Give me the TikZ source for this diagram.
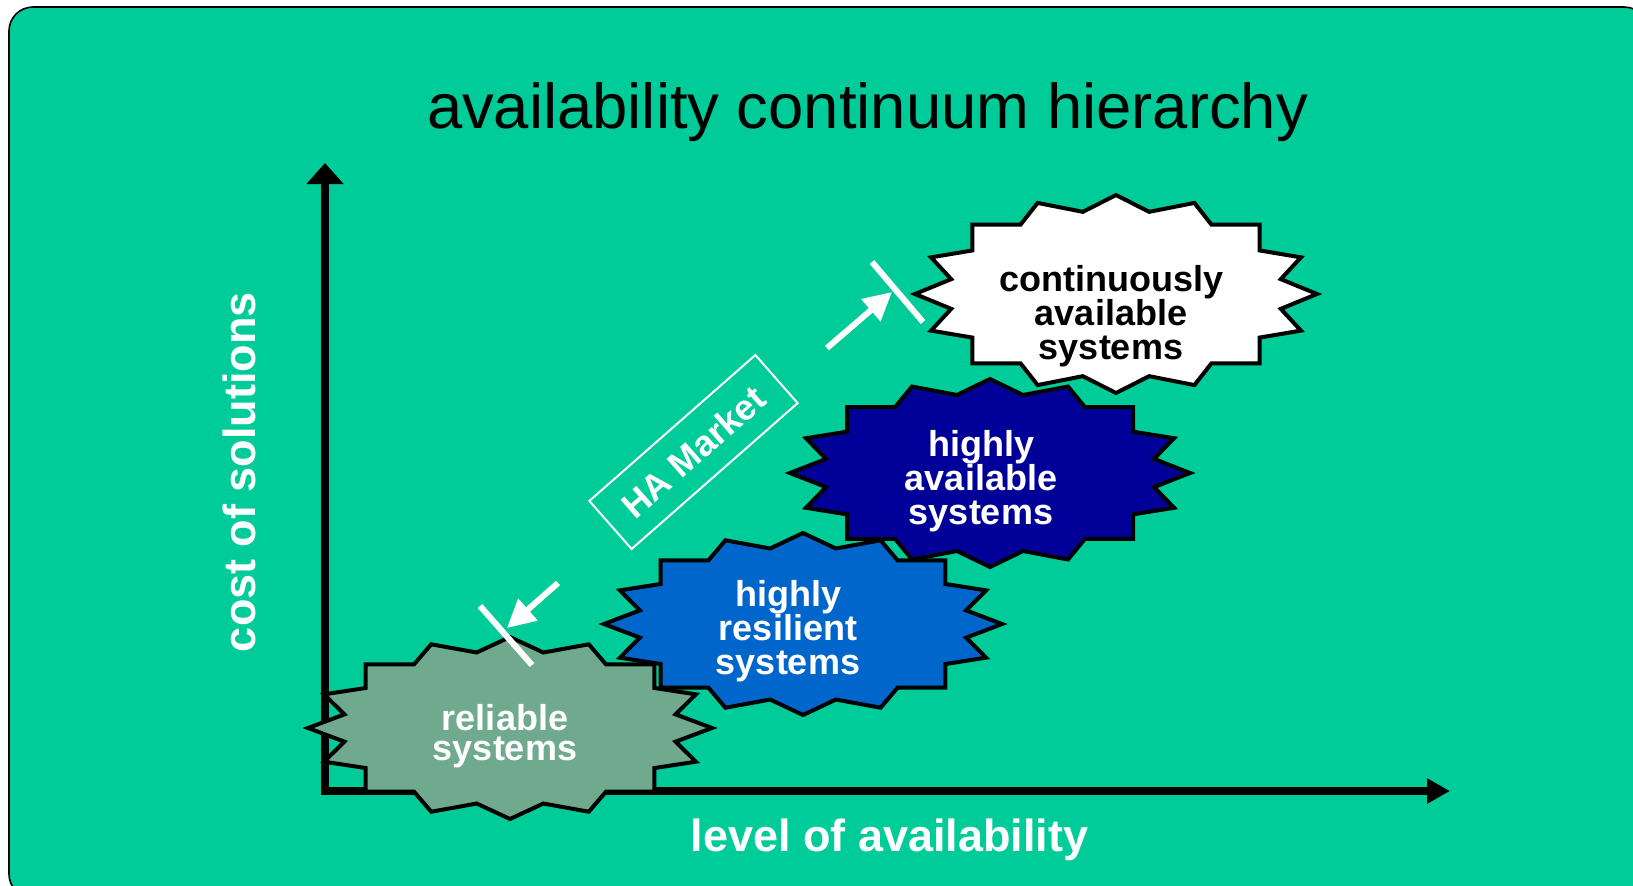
\documentclass[tikz,border=0pt]{standalone}
\usepackage{fontspec}
\setmainfont{Liberation Sans}
\usetikzlibrary{arrows.meta}

\definecolor{panelgreen}{HTML}{00CC99}
\definecolor{relgreen}{HTML}{6FAA8F}
\definecolor{resblue}{HTML}{0066CC}
\definecolor{avnavy}{HTML}{000099}

\tikzset{
	burstline/.style={draw=black, line width=2pt, line join=miter},
	bursttext/.style={align=center, inner sep=0pt, font=\bfseries\fontsize{18}{17}\selectfont},
	axislabel/.style={text=white, font=\bfseries\fontsize{22.5}{27}\selectfont},
	whitearrow/.style={white, line width=3pt, -{Triangle[length=14pt,width=14pt]}},
	limitbar/.style={white, line width=3pt},
}

% starburst: centre x, centre y, half width, half height, fill
\newcommand{\burst}[5]{%
	\draw[burstline, fill=#5, shift={(#1,#2)}, xscale=#3, yscale=#4]
		(0,-1) -- (0.165,-0.83) -- (0.39,-0.92) -- (0.475,-0.70) -- (0.715,-0.70)
		-- (0.715,-0.44) -- (0.92,-0.37) -- (0.82,-0.15) -- (1,0)
		-- (0.82,0.15) -- (0.92,0.37) -- (0.715,0.44) -- (0.715,0.70)
		-- (0.475,0.70) -- (0.39,0.92) -- (0.165,0.83) -- (0,1)
		-- (-0.165,0.83) -- (-0.39,0.92) -- (-0.475,0.70) -- (-0.715,0.70)
		-- (-0.715,0.44) -- (-0.92,0.37) -- (-0.82,0.15) -- (-1,0)
		-- (-0.82,-0.15) -- (-0.92,-0.37) -- (-0.715,-0.44) -- (-0.715,-0.70)
		-- (-0.475,-0.70) -- (-0.39,-0.92) -- (-0.165,-0.83) -- cycle;
}

\begin{document}
\begin{tikzpicture}[x=0.5pt, y=-0.5pt]

	\useasboundingbox (0,0) rectangle (1633,885);
	\fill[white] (0,0) rectangle (1633,885);
	\draw[fill=panelgreen, line width=0.8pt, rounded corners=12pt] (9,7) rectangle (1648,898);

	\node[anchor=base, font=\fontsize{31.7}{38}\selectfont] (title) at (867.5,128) {availability continuum hierarchy};

	% axes
	\coordinate (origin) at (325,791);
	\coordinate (ytip) at (325,163);
	\coordinate (xtip) at (1450,791);
	\draw[line width=4pt, {Triangle[length=10.5pt,width=18pt]}-{Triangle[length=11.5pt,width=12pt]}] (ytip) -- (origin) -- (xtip);

	\node[axislabel, anchor=base] (xlabel) at (889.5,851) {level of availability};
	\node[axislabel, anchor=base, rotate=90] (ylabel) at (255,472) {cost of solutions};

	% the four systems
	\burst{510}{728}{202}{91}{relgreen}
	\node[bursttext, text=white, font=\bfseries\fontsize{18}{15}\selectfont] (reliable) at (505,736) {reliable\\systems};

	\burst{803}{624}{199}{91}{resblue}
	\node[bursttext, text=white] (resilient) at (788,631) {highly\\resilient\\systems};

	\burst{990}{473}{200}{94}{avnavy}
	\node[bursttext, text=white] (available) at (981,481) {highly\\available\\systems};

	\burst{1116}{294}{201}{99}{white}
	\node[bursttext] (continuous) at (1111,316) {continuously\\available\\systems};

	% HA market band
	\node[draw=white, line width=1pt, text=white, rotate=41.3, minimum width=110.5pt, minimum height=32pt,
		inner sep=0pt, font=\bfseries\fontsize{18}{22}\selectfont] (market) at (693.5,452) {HA Market};

	\coordinate (lowtail) at (558,583);
	\coordinate (lowtip) at (507,628);
	\coordinate (lowbarA) at (480,606);
	\coordinate (lowbarB) at (532,665);
	\draw[limitbar] (lowbarA) -- (lowbarB);
	\draw[whitearrow] (lowtail) -- (lowtip);

	\coordinate (uptail) at (827,348);
	\coordinate (uptip) at (892,292);
	\coordinate (upbarA) at (872,262);
	\coordinate (upbarB) at (923,322);
	\draw[limitbar] (upbarA) -- (upbarB);
	\draw[whitearrow] (uptail) -- (uptip);

\end{tikzpicture}
\end{document}
